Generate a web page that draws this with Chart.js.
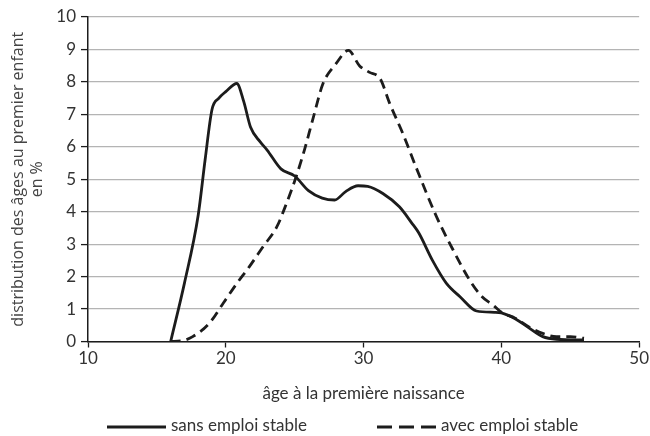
<!DOCTYPE html>
<html>
<head>
<meta charset="utf-8">
<script src="https://cdn.jsdelivr.net/npm/chart.js@4"></script>
<style>
  body { margin: 0; background: #fff; }
</style>
</head>
<body>
<canvas id="chart" width="650" height="436"></canvas>
<script>
// valeurs
const agesSans = [16, 17, 18, 18.5, 19, 19.5, 20, 20.8, 21.3, 21.8, 22.5, 23, 24, 25, 26, 27, 27.9, 28.7, 29.6, 30.3, 31.4, 32.6, 33.5, 34, 35, 36, 37, 38.2, 39.5, 40, 41, 42, 43, 44, 46];
const sans = [0, 1.8, 3.9, 5.6, 7.15, 7.5, 7.7, 7.95, 7.4, 6.6, 6.15, 5.9, 5.32, 5.1, 4.65, 4.42, 4.36, 4.62, 4.8, 4.78, 4.56, 4.15, 3.65, 3.35, 2.5, 1.8, 1.38, 0.94, 0.9, 0.88, 0.7, 0.42, 0.15, 0.07, 0.05];

const agesAvec = [16, 16.8, 17.6, 18.8, 19.8, 20.8, 21.7, 22.7, 23.7, 24.4, 25.1, 25.7, 26.3, 27.05, 28, 28.9, 29.7, 30.4, 31.2, 31.9, 32.85, 33.8, 35.3, 36.5, 37.7, 38.6, 39.4, 40, 41, 42, 43, 44, 45, 46];
const avec = [0, 0.02, 0.15, 0.56, 1.17, 1.79, 2.3, 2.92, 3.53, 4.25, 5.07, 5.89, 6.82, 7.94, 8.56, 8.97, 8.5, 8.3, 8.1, 7.33, 6.41, 5.38, 3.84, 2.82, 1.89, 1.38, 1.12, 0.9, 0.72, 0.45, 0.25, 0.15, 0.15, 0.1];

const xTicks = [10, 20, 30, 40, 50];
const yTicks = [0, 1, 2, 3, 4, 5, 6, 7, 8, 9, 10];
const seriesNames = ['sans emploi stable', 'avec emploi stable'];
const xTitle = 'âge à la première naissance';
const yTitle = ['distribution des âges au premier enfant', 'en %'];

const ink = '#1c1c1c';
const toPoints = (xs, ys) => xs.map((x, i) => ({ x: x, y: ys[i] }));

// legende dessinee a la main (trait plein / tirets)
const bottomLegend = {
  id: 'bottomLegend',
  afterDraw(chart) {
    const ctx = chart.ctx;
    const y = 426;
    let x = 107;
    ctx.save();
    ctx.font = '17px Lato';
    ctx.textBaseline = 'middle';
    ctx.fillStyle = '#333';
    chart.data.datasets.forEach(ds => {
      ctx.beginPath();
      ctx.setLineDash(ds.borderDash ? [15, 7] : []);
      ctx.lineWidth = 3;
      ctx.strokeStyle = ink;
      ctx.moveTo(x, y + 1);
      ctx.lineTo(x + 59, y + 1);
      ctx.stroke();
      ctx.fillText(ds.label, x + 64, y);
      x += 64 + ctx.measureText(ds.label).width + 70;
    });
    ctx.restore();
  }
};

new Chart(document.querySelector('#chart'), {
  type: 'line',
  data: {
    datasets: [
      {
        label: seriesNames[0],
        data: toPoints(agesSans, sans),
        borderColor: ink,
        borderWidth: 2.8,
        pointRadius: 0,
        cubicInterpolationMode: 'monotone'
      },
      {
        label: seriesNames[1],
        data: toPoints(agesAvec, avec),
        borderColor: ink,
        borderWidth: 2.8,
        borderDash: [10, 6],
        pointRadius: 0,
        cubicInterpolationMode: 'monotone'
      }
    ]
  },
  options: {
    responsive: false,
    animation: false,
    layout: { padding: { top: 17, right: 9, bottom: 30, left: 0 } },
    plugins: { legend: { display: false }, tooltip: { enabled: false } },
    scales: {
      x: {
        type: 'linear',
        min: 10,
        max: 50,
        afterBuildTicks: s => { s.ticks = xTicks.map(v => ({ value: v })); },
        afterFit: s => { s.height = 64.5; },
        grid: { drawOnChartArea: false, tickLength: 6, tickColor: ink, tickWidth: 1.3 },
        border: { color: ink, width: 1.5 },
        ticks: { padding: 1, maxRotation: 0, color: '#333', font: { family: 'Lato', size: 17 } },
        title: {
          display: true, text: xTitle, color: '#333',
          font: { family: 'Lato', size: 17 }, padding: { top: 0, bottom: 2 }
        }
      },
      y: {
        min: 0,
        max: 10,
        afterBuildTicks: s => { s.ticks = yTicks.map(v => ({ value: v })); },
        afterFit: s => { s.width = 88; },
        grid: { color: '#b4b4b4', lineWidth: 1.2, tickLength: 7, tickColor: ink, tickWidth: 1.3 },
        border: { color: ink, width: 1.5 },
        ticks: { padding: 5, color: '#333', font: { family: 'Lato', size: 17 } },
        title: {
          display: true, text: yTitle, color: '#444',
          font: { family: 'Open Sans', size: 16, lineHeight: 1.2 }, padding: { top: 9 }
        }
      }
    }
  },
  plugins: [bottomLegend]
});
</script>
</body>
</html>
